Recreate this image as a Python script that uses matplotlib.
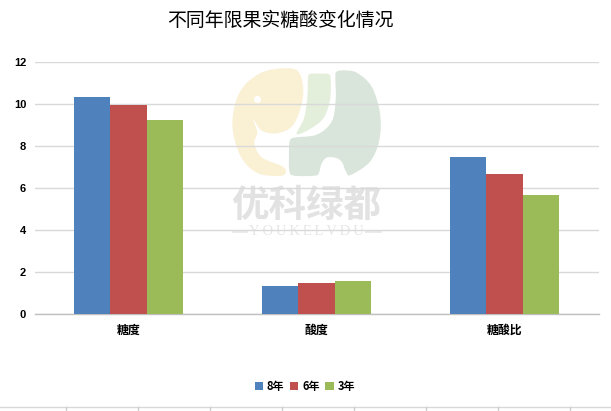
import matplotlib
matplotlib.use("Agg")
import matplotlib.pyplot as plt
import numpy as np
from matplotlib.path import Path
from matplotlib.patches import PathPatch
from matplotlib.lines import Line2D
from matplotlib.transforms import Affine2D

plt.rcParams['font.family'] = ['Noto Sans CJK SC', 'DejaVu Sans']

categories = ['糖度', '酸度', '糖酸比']
series_names = ['8年', '6年', '3年']
values_8 = [10.35, 1.35, 7.5]
values_6 = [9.97, 1.48, 6.68]
values_3 = [9.25, 1.58, 5.68]
colors = ['#4F81BD', '#C0504D', '#9BBB59']
yticks = [0, 2, 4, 6, 8, 10, 12]

W, H = 611, 411
fig = plt.figure(figsize=(W / 100, H / 100), dpi=100, facecolor='white')
ax = fig.add_axes([34.5 / W, 1 - 314 / H, 564 / W, 252 / H])

# pixel transform: image coordinates, origin top-left
px = Affine2D().scale(1, -1).translate(0, H)

def blob(pts, color):
    # closed Catmull-Rom curve through the outline points
    p = np.array([(220 + x / 3, 60 + y / 3) for x, y in pts], float)
    n = len(p)
    verts = [p[0]]
    codes = [Path.MOVETO]
    for i in range(n):
        p0, p1, p2, p3 = p[i - 1], p[i], p[(i + 1) % n], p[(i + 2) % n]
        verts += [p1 + (p2 - p0) / 6, p2 - (p3 - p1) / 6, p2]
        codes += [Path.CURVE4] * 3
    fig.add_artist(PathPatch(Path(verts, codes), fc=color, ec='none', transform=px, zorder=-5))

blob([(190, 25), (235, 35), (250, 90), (240, 150), (215, 200), (170, 220), (125, 212), (100, 178),
      (112, 218), (103, 250), (125, 292), (185, 318), (198, 335), (180, 348), (110, 338), (60, 285),
      (37, 190), (60, 95), (120, 40)], '#FAF0D4')
blob([(270, 42), (300, 41), (325, 42), (332, 55), (330, 120), (310, 175), (270, 207), (230, 222),
      (252, 175), (262, 110), (264, 55)], '#E3EEDB')
blob([(350, 35), (370, 31), (410, 38), (455, 80), (480, 160), (478, 240), (450, 305), (392, 345),
      (378, 335), (365, 305), (345, 293), (320, 293), (305, 310), (297, 338), (285, 347), (222, 347),
      (208, 332), (207, 280), (209, 245), (222, 233), (290, 224), (335, 185), (347, 120), (346, 50)],
     '#D9E5DA')
fig.text(306.5 / W, 1 - 205 / H, '优科绿都', color='#E2E2E2', fontsize=27, fontweight='bold',
         ha='center', va='center', zorder=-5)
fig.text(306.5 / W, 1 - 231.5 / H, '\u2009'.join('YOUKELVDU'), color='#E6E6E6', fontsize=10.5,
         family='Liberation Serif', ha='center', va='center', zorder=-5)
for x0, x1 in [(233, 247), (366, 381)]:
    fig.add_artist(Line2D([x0 / W, x1 / W], [1 - 231.5 / H] * 2, color='#E6E6E6', lw=1.2, zorder=-5))
eye = PathPatch(Path.circle((257.5, 99.5), 3.5), fc='white', ec='none', transform=px, zorder=-4)
fig.add_artist(eye)

ax.set_facecolor('none')
ax.set_zorder(2)
x = np.arange(len(categories))
bw = 36.5 / 188
for i, (vals, c) in enumerate(zip([values_8, values_6, values_3], colors)):
    ax.bar(x + (i - 1) * bw, vals, bw, color=c, label=series_names[i], zorder=3)

ax.set_xlim(-0.5, 2.5)
ax.set_ylim(0, 12)
ax.set_yticks(yticks)
ax.set_xticks(x)
ax.set_xticklabels(categories, fontsize=8.6, fontweight='bold', color='black')
ax.tick_params(axis='x', length=0, pad=7)
ax.tick_params(axis='y', length=0, pad=6, labelsize=8)
for lab in ax.get_yticklabels():
    lab.set_fontweight('bold')
    lab.set_family('Liberation Sans')
ax.grid(axis='y', color='#D9D9D9', lw=1)
ax.set_axisbelow(True)
for s in ['top', 'right', 'left']:
    ax.spines[s].set_visible(False)
ax.spines['bottom'].set_color('#BFBFBF')
ax.spines['bottom'].set_linewidth(1)

fig.text(280 / W, 1 - 20 / H, '不同年限果实糖酸变化情况', fontsize=13.6, ha='center', va='center', color='black')

leg = ax.legend(loc='center', bbox_to_anchor=(305 / W, 1 - 386 / H), bbox_transform=fig.transFigure,
                ncol=3, frameon=False, fontsize=8, handlelength=0.75, handleheight=0.75,
                columnspacing=0.5, handletextpad=0.35, borderpad=0)
for t in leg.get_texts():
    t.set_fontweight('bold')

# strip of the next sheet along the bottom edge
fig.add_artist(Line2D([0, 1], [1 - 406.5 / H] * 2, color='#D9D9D9', lw=1))
for tx in np.arange(66, 611, 72):
    fig.add_artist(Line2D([tx / W] * 2, [0, 1 - 406.5 / H], color='#D0D0D0', lw=1))

fig.savefig('out.png', dpi=100, facecolor='white')
